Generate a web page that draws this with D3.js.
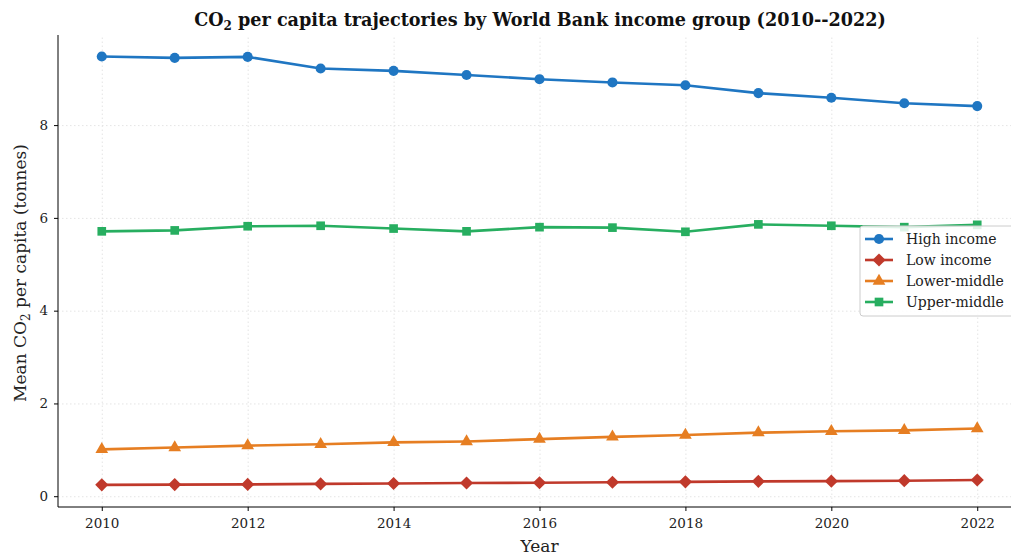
<!DOCTYPE html>
<html>
<head>
<meta charset="utf-8">
<script src="https://cdn.jsdelivr.net/npm/d3@7"></script>
<style>
  body { margin: 0; background: #fff; }
  svg { display: block; font-family: "DejaVu Serif", serif; }
  .grid line { stroke: #ddd; stroke-dasharray: 1.5 2.5; stroke-width: 0.8; }
  .grid path { display: none; }
  .axis path, .axis line { stroke: #000; }
  .axis text { fill: #222; }
</style>
</head>
<body>
<svg width="1011" height="556"></svg>
<script>
const years = [2010, 2011, 2012, 2013, 2014, 2015, 2016, 2017, 2018, 2019, 2020, 2021, 2022];
const highIncome  = [9.48, 9.45, 9.47, 9.22, 9.17, 9.08, 8.99, 8.92, 8.86, 8.69, 8.59, 8.47, 8.41];
const lowIncome   = [0.245, 0.25, 0.255, 0.265, 0.275, 0.285, 0.29, 0.30, 0.31, 0.32, 0.325, 0.335, 0.35];
const lowerMiddle = [1.01, 1.05, 1.09, 1.12, 1.16, 1.18, 1.23, 1.28, 1.32, 1.37, 1.40, 1.42, 1.46];
const upperMiddle = [5.71, 5.73, 5.82, 5.83, 5.77, 5.71, 5.80, 5.79, 5.70, 5.86, 5.83, 5.80, 5.85];
const xTicks = [2010, 2012, 2014, 2016, 2018, 2020, 2022];
const yTicks = [0, 2, 4, 6, 8];

const series = [
  { name: 'High income',  values: highIncome,  color: '#1f76c2', symbol: d3.symbolCircle,   size: 80 },
  { name: 'Low income',   values: lowIncome,   color: '#c0392b', symbol: d3.symbolDiamond2, size: 110 },
  { name: 'Lower-middle', values: lowerMiddle, color: '#e67e22', symbol: d3.symbolTriangle, size: 70 },
  { name: 'Upper-middle', values: upperMiddle, color: '#27ae60', symbol: d3.symbolSquare,   size: 75 },
];

const margin = { top: 35, left: 58, bottom: 49, right: 0 };
const width = 1011, height = 556;
const innerHeight = height - margin.top - margin.bottom;

const x = d3.scaleLinear().domain([2009.4, 2022.6]).range([0, 963]);
const y = d3.scaleLinear().domain([-0.2325, 9.9425]).range([innerHeight, 0]);

const svg = d3.select('svg');
const g = svg.append('g').attr('transform', `translate(${margin.left},${margin.top})`);

// grid
g.append('g').attr('class', 'grid')
  .attr('transform', `translate(0,${innerHeight})`)
  .call(d3.axisBottom(x).tickValues(xTicks).tickSize(-innerHeight).tickFormat(''));
g.append('g').attr('class', 'grid')
  .call(d3.axisLeft(y).tickValues(yTicks).tickSize(-963).tickFormat(''));

// lines + markers
const line = d3.line().x((d, i) => x(years[i])).y(d => y(d));
series.forEach(s => {
  g.append('path')
    .datum(s.values)
    .attr('fill', 'none')
    .attr('stroke', s.color)
    .attr('stroke-width', 2.6)
    .attr('d', line);
  g.selectAll(null)
    .data(s.values)
    .enter().append('path')
    .attr('transform', (d, i) => `translate(${x(years[i])},${y(d)})`)
    .attr('d', d3.symbol().type(s.symbol).size(s.size))
    .attr('fill', s.color);
});

// axes
const ax = g.append('g').attr('class', 'axis')
  .attr('transform', `translate(0,${innerHeight})`)
  .call(d3.axisBottom(x).tickValues(xTicks).tickFormat(d3.format('d')).tickSizeOuter(0).tickSize(4).tickPadding(7))
  .attr('font-family', '"DejaVu Serif", serif').attr('font-size', 13.5);
const ay = g.append('g').attr('class', 'axis')
  .call(d3.axisLeft(y).tickValues(yTicks).tickSizeOuter(0).tickSize(4).tickPadding(6))
  .attr('font-family', '"DejaVu Serif", serif').attr('font-size', 13.5);
ax.select('.domain').attr('d', `M0,0H963`);
ay.select('.domain').attr('d', `M0,0V${innerHeight}`);

// title
const title = svg.append('text')
  .attr('x', 540).attr('y', 26)
  .attr('text-anchor', 'middle')
  .attr('font-size', 17.6).attr('font-weight', 'bold').attr('fill', '#111');
title.append('tspan').text('CO');
title.append('tspan').text('2').attr('font-size', 12).attr('dy', 3.5);
title.append('tspan').text(' per capita trajectories by World Bank income group (2010--2022)').attr('dy', -3.5);

// axis labels
svg.append('text')
  .attr('x', margin.left + x(2016)).attr('y', 552)
  .attr('text-anchor', 'middle').attr('font-size', 17).attr('fill', '#222')
  .text('Year');
const yl = svg.append('text')
  .attr('transform', `translate(26,${margin.top + innerHeight / 2 + 2}) rotate(-90)`)
  .attr('text-anchor', 'middle').attr('font-size', 17).attr('fill', '#222');
yl.append('tspan').text('Mean CO');
yl.append('tspan').text('2').attr('font-size', 12).attr('dy', 3.5);
yl.append('tspan').text(' per capita (tonnes)').attr('dy', -3.5);

// legend
const lg = svg.append('g').attr('transform', 'translate(860,226)');
lg.append('rect')
  .attr('x', 0).attr('y', 0).attr('width', 160).attr('height', 90)
  .attr('rx', 3)
  .attr('fill', 'rgba(255,255,255,0.85)')
  .attr('stroke', '#ccc');
series.forEach((s, i) => {
  const row = lg.append('g').attr('transform', `translate(0,${13 + i * 21})`);
  row.append('line').attr('x1', 5).attr('x2', 33).attr('stroke', s.color).attr('stroke-width', 2.6);
  row.append('path')
    .attr('transform', 'translate(19,0)')
    .attr('d', d3.symbol().type(s.symbol).size(s.size))
    .attr('fill', s.color);
  row.append('text')
    .attr('x', 46).attr('y', 5)
    .attr('font-size', 14).attr('fill', '#222')
    .text(s.name);
});
</script>
</body>
</html>
